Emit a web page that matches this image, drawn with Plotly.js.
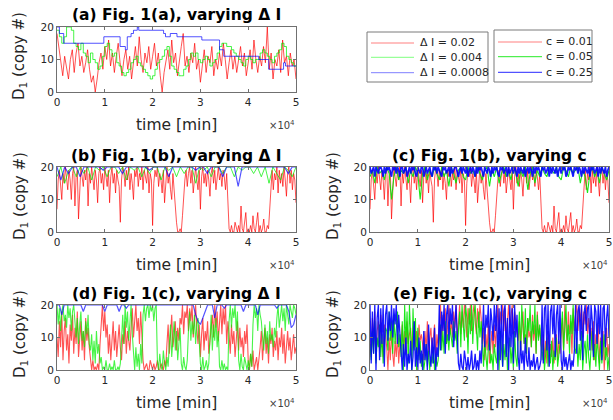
<!DOCTYPE html>
<html>
<head>
<meta charset="utf-8">
<script src="https://cdn.plot.ly/plotly-3.0.1.min.js"></script>
<style>html,body{margin:0;padding:0;background:#fff;}#chart{width:613px;height:420px;}</style>
</head>
<body>
<div id="chart"></div>
<script>
// ---------------- DATA ----------------
const xTickVals = [0, 10000, 20000, 30000, 40000, 50000];
const xTickText = ['0', '1', '2', '3', '4', '5'];
const yTickVals = [0, 10, 20];
const panelTitles = ['(a) Fig. 1(a), varying Δ I', '(b) Fig. 1(b), varying Δ I', '(c) Fig. 1(b), varying c',
                     '(d) Fig. 1(c), varying Δ I', '(e) Fig. 1(c), varying c'];
const namesDeltaI = ['Δ I = 0.02', 'Δ I = 0.004', 'Δ I = 0.0008'];
const namesC = ['c = 0.01', 'c = 0.05', 'c = 0.25'];

// (a) Fig 1(a), varying ΔI
const a_red = [18,14,9,5,11,7,4,10,13,6,12,15,8,11,6,9,13,7,3,5,0,4,9,12,7,14,10,16,8,12,6,11,15,9,5,10,13,7,11,4,
  9,14,8,17,10,6,12,9,14,7,11,15,8,12,5,0,6,10,13,7,16,9,12,5,10,14,18,8,11,6,12,9,15,7,10,3,8,13,6,11,
  9,14,5,10,7,12,8,15,10,4,9,13,7,11,6,10,14,8,12,5,9,13,7,16,10,6,11,8,14,9,20,7,12,4,10,8,13,6,16,9,
  11,5,12,8,10,4];
const a_green = [19,17,15,17,20,20,19,15,14,13,15,12,11,9,12,10,9,7,8,11,14,15,13,11,12,9,8,6,5,6,7,9,10,11,9,8,7,6,5,4,
  5,7,9,10,11,13,14,11,8,7,6,5,5,7,8,10,12,11,12,10,9,10,11,10,8,9,10,12,14,15,15,14,14,13,12,11,10,9,8,10,
  11,10,9,10,10,12,13,12,11,10,9,11,12,13,15,14,11,10,9,8,8];
const a_blue_t = [0,500,1400,9800,13200,14300,14700,15500,16000,16800,17100,22300,22700,23700,25100,26500,30300,34000,34900,38000,42200,42900,44300,47400,47800,49500,50000];
const a_blue   = [20,18,15,17,14,13,17,18,19,20,19,18,17,18,17,17,16,13,11,11,10,10,7,9,8,8,8];

// (b)/(c) Fig 1(b): lowest-parameter trace is the same run in both panels
const bc_red = [7,16,19,14,10,18,15,20,17,13,19,16,10,18,20,8,17,19,4,15,20,17,14,19,16,20,8,18,15,20,
  17,13,19,16,9,18,20,15,18,13,20,17,14,19,9,17,20,15,18,12,19,16,14,3,16,20,18,14,19,16,
  20,13,18,15,10,19,17,20,14,18,16,20,13,19,17,15,20,12,18,16,2,15,19,17,20,14,18,16,12,19,
  9,17,20,15,18,13,10,18,12,6,3,0,0,1,0,5,11,16,19,14,18,20,15,19,12,17,20,16,13,19,
  7,17,20,15,18,14,19,16,11,18,20,15,19,13,17,20,16,18,14,19,17,13,18,9,1,0,2,0,0,3,
  1,0,2,0,8,1,0,3,6,0,1,0,2,0,5,1,0,3,6,0,2,0,1,4,0,0,2,1,8,15,
  19,13,18,16,20,12,19,15,18,14,20,16,11,18,20,15,19,13,18,16,9];
const b_green = [17,20,15,19,20,17,20,18,20,16,20,19,20,17,20,20,18,20,16,20,19,20,17,20,18,20,20,16,20,19,20,17,20,18,20,20,15,20,19,20,
  17,20,20,18,20,20,17,20,19,20,20,18,20,17,20,15,20,18,16,20,19,17,20];
const b_blue = [20,16,20,18,20,20,17,20,20,20,20,20,19,20,20,20,20,18,20,20,20,20,20,20,19,20,20,20,20,17,20,20,20,20,20,20,19,20,20,18,
  20,20,20,17,20,20,20,14,20,20,20,20,20,20,20,20,20,20,20,20,18,20,20];
const c_green = [17,19,15,20,18,19,16,20,18,10,17,20,16,19,18,20,15,19,17,20,18,10,18,20,16,19,17,20,18,16,20,17,19,14,20,18,15,19,20,17,
  16,20,18,19,17,20,18,16,19,20,14,19,17,20,15,18,20,17,19,16,20,18,14,19,17,20,13,18,20,15,19,17,20,18,17,20,19,18,20,17,
  16,20,19,17,20,18,19,20,15,19,17,12,18,20,17,19,15,20,18,16,19];
const c_blue = [20,18,19,20,17,20,19,18,20,20,19,17,20,18,20,19,20,18,17,20,19,20,18,20,19,17,20,20,18,19,20,17,19,20,18,20,19,20,18,17,
  20,19,18,20,20,17,19,20,18,19,20,18,17,20,19,20,18,20,19,18,17,20,19,20,18,19,20,17,20,18,19,20,20,18,17,19,20,18,20,19,
  18,20,17,19,20,18,20,19,17,20,18,20,19,20,18,17,20,19,18,20,19,17,20,18,20,19,20,18,17,20,19,20,18,19,20,17,20,18,19,20,
  18,20,19,17,20,18,20,19,18,20,17,19,20,18,20,19,17,20,18,20,19,20,18,17,20,19,20,18,19,20,17,20,18,20,19,18,20,17,19,20,
  18,20,19,20,17,18,20,19,20,18,17,20,19,20,18,20,19,17,20,18,20,19,18,20,17,20,19,20,18,19,20,17,20,18,20,19,18,20,17,19,20];

// (d) Fig 1(c), varying ΔI
const d_red = [10,4,15,7,18,3,12,16,6,11,2,14,9,17,5,13,8,18,4,11,15,6,12,3,16,9,13,7,
  2,0,3,0,1,0,2,0,
  8,15,20,12,18,10,
  14,5,11,3,9,15,6,12,4,10,14,7,3,11,8,15,5,12,9,6,
  13,19,10,17,20,12,16,8,18,11,
  3,0,1,2,0,0,3,1,0,2,0,1,3,0,0,2,1,0,3,1,
  8,14,5,12,17,7,11,15,6,13,9,16,
  14,20,11,18,16,20,12,19,15,20,10,17,20,13,
  8,14,4,11,16,6,12,9,15,5,10,13,
  17,10,20,13,18,9,16,20,11,19,14,20,8,15,
  11,5,14,8,12,4,9,15,6,13,7,10,4,12,8,14,
  3,0,5,1,6,0,2,4,0,3,
  7,12,3,9,13,5,10,2,11,8,13,4,9,6,12,3,10,7,13,5,11,2,9,12,6,10,3,8,11,5,7];
const d_green = [20,14,19,12,18,20,15,17,13,20,16,19,12,18,20,14,
  10,16,8,14,18,9,12,7,15,11,17,8,
  6,11,3,9,2,12,5,8,2,4,
  0,1,0,3,0,0,2,0,1,0,3,0,0,1,0,2,
  10,17,8,20,13,18,9,15,20,11,
  4,0,7,1,5,0,8,2,
  17,20,15,19,20,16,20,18,20,15,19,20,
  3,0,5,1,0,6,2,0,4,1,
  8,14,4,11,15,6,12,3,9,13,
  2,0,4,1,0,3,
  12,18,9,15,11,17,8,14,16,10,
  2,0,4,0,1,3,0,2,
  11,17,6,14,9,16,7,12,
  1,0,3,0,2,0,1,0,
  15,20,13,19,16,20,12,18,
  3,0,5,1,0,4,2,0,3,0,5,1,
  14,20,16,19,12,20,17,15,
  10,6,14,8,12,5,15,9,11,7,13,10,
  16,20,13,18,20,15,19,12,20,17,14,20,18,16,20,19,17];
const d_blue = [20,20,17,20,20,20,20,20,20,20,20,18,20,20,20,20,20,20,20,20,18,20,20,20,20,20,18,20,20,19,20,20,20,20,20,20,20,20,20,20,
  20,20,20,20,20,20,20,20,20,20,20,20,20,20,20,20,20,20,17,15,14,16,18,20,20,20,16,20,20,20,19,20,20,20,20,20,20,20,18,20,
  20,20,20,20,17,20,20,20,20,20,20,20,19,20,20,20,20,18,13,14,17];

// (e) Fig 1(c), varying c
const e_red = [10,4,16,8,18,3,12,15,6,17,9,4,14,11,
  7,0,10,3,12,5,1,9,4,11,2,8,
  9,14,6,12,5,15,8,11,13,6,10,15,7,12,5,14,9,11,
  8,3,12,6,15,4,10,13,5,9,14,3,11,7,
  14,20,9,17,12,19,8,16,20,11,15,10,18,13,20,9,
  15,20,11,18,13,20,16,10,19,14,20,12,17,20,15,11,19,13,20,16,
  8,13,3,11,6,15,2,9,12,5,14,7,
  16,20,11,18,14,20,12,19,10,17,20,13,16,20,11,18,15,12,
  9,15,6,13,18,8,11,5,16,10,
  12,7,17,9,14,5,18,10,13,8,
  6,11,3,9,2,12,5,8,4,10,2,7,11,3,9,5,
  10,16,6,20,13,8,18,11,15,5,19,12,
  17,20,12,19,15,20,10,18,14,20,11,16,9,13,6,15,3,11,8,14,2,10,5,12,0,9,13,4,8];
const e_green = [8,3,12,5,15,2,10,7,14,4,11,2,9,13,
  12,6,18,9,15,5,17,8,13,18,7,11,
  4,15,0,20,8,18,2,20,11,0,19,6,16,0,13,3,9,1,
  5,0,3,8,1,6,0,4,2,7,0,5,1,3,
  9,14,6,12,5,15,8,11,6,13,10,7,15,9,12,5,
  12,18,7,20,14,9,20,16,5,19,11,20,8,17,20,13,6,18,10,15,
  6,1,9,3,0,7,10,2,5,0,8,4,
  2,9,0,12,5,1,8,3,11,0,6,10,2,7,0,12,4,1,
  10,18,6,20,13,8,19,5,16,12,
  20,7,15,11,20,5,17,9,14,6,
  3,8,0,5,10,1,7,2,9,0,6,3,10,1,4,8,
  12,18,6,15,20,9,14,5,17,11,20,7,
  5,10,1,8,3,12,0,6,9,2,11,4,0,7,12,3,8,1,10,5,0,9,2,6,11,3,7,0,4];
const e_blue = [20,2,18,5,20,0,16,20,3,19,8,20,1,17,
  20,9,18,12,20,10,19,14,20,8,17,11,
  3,0,8,1,10,0,5,2,9,0,4,15,1,7,0,10,2,6,
  0,12,3,8,0,14,5,1,10,2,13,0,7,4,
  20,6,18,12,20,5,17,20,9,19,14,20,7,16,20,11,
  2,0,5,1,0,6,3,0,4,0,2,6,0,1,5,0,3,0,6,2,
  10,20,7,17,13,20,6,19,15,9,20,12,
  20,0,19,3,20,1,18,20,4,16,0,20,7,19,2,20,10,17,
  4,0,9,2,6,0,10,3,1,7,
  0,3,1,5,0,2,4,0,1,3,
  20,2,19,20,6,20,1,18,20,11,20,4,17,20,8,20,
  3,0,6,1,4,0,2,5,0,3,1,6,
  20,5,18,20,9,20,3,17,20,12,19,20,6,20,15,4,20,18,8,20,11,20,3,19,20,7,16,20,10];

// ---------------- STYLE / LAYOUT ----------------
const FONT = 'DejaVu Sans, Liberation Sans, sans-serif';
const W = 613, H = 420;
const px = p => p / W;
const py = p => 1 - p / H;
const cols = [[57, 296], [370, 609]];
const rows = [[27, 92], [167, 232], [305, 370]];
const place = [[0, 0], [0, 1], [1, 1], [0, 2], [1, 2]];

// plot colours (denser overlap in the reference => a bit more opaque), legend colours lighter
const colDI = ['rgba(255,0,0,0.68)', 'rgba(0,240,0,0.72)', 'rgba(0,0,255,0.68)'];
const colC  = ['rgba(255,0,0,0.68)', 'rgba(0,230,0,0.9)', 'rgba(0,0,255,0.9)'];
const legColDI = ['rgba(255,0,0,0.5)', 'rgba(0,255,0,0.5)', 'rgba(0,0,255,0.5)'];
const legColC  = ['rgba(255,0,0,0.5)', 'rgba(0,230,0,0.85)', 'rgba(0,0,255,0.85)'];

function tgrid(n) { const a = []; for (let i = 0; i < n; i++) a.push(i * 50000 / (n - 1)); return a; }

const series = [
  [[tgrid(a_red.length), a_red, 'linear'], [tgrid(a_green.length), a_green, 'hv'], [a_blue_t, a_blue, 'hv']],
  [[tgrid(bc_red.length), bc_red, 'linear'], [tgrid(b_green.length), b_green, 'linear'], [tgrid(b_blue.length), b_blue, 'linear']],
  [[tgrid(bc_red.length), bc_red, 'linear'], [tgrid(c_green.length), c_green, 'linear'], [tgrid(c_blue.length), c_blue, 'linear']],
  [[tgrid(d_red.length), d_red, 'linear'], [tgrid(d_green.length), d_green, 'linear'], [tgrid(d_blue.length), d_blue, 'linear']],
  [[tgrid(e_red.length), e_red, 'linear'], [tgrid(e_green.length), e_green, 'linear'], [tgrid(e_blue.length), e_blue, 'linear']]
];
const isC = [false, false, true, false, true];
const widths = [[1, 1, 1], [1, 1, 1.2], [1, 1.1, 1.7], [1.1, 1.1, 1.2], [1.1, 1.1, 1.3]];

const traces = [];
const layout = {
  width: W, height: H, margin: {l: 0, r: 0, t: 0, b: 0},
  paper_bgcolor: '#fff', plot_bgcolor: '#fff', showlegend: false,
  font: {family: FONT, color: '#262626'},
  annotations: [], shapes: []
};

for (let p = 0; p < 5; p++) {
  const [ci, ri] = place[p];
  const [l, r] = cols[ci], [t, b] = rows[ri];
  const sfx = p === 0 ? '' : String(p + 1);
  const axCommon = {showline: true, mirror: 'ticks', linecolor: '#707070', linewidth: 1, ticks: 'inside', ticklen: 3,
    tickcolor: '#707070', showgrid: false, zeroline: false, tickfont: {family: FONT, size: 10.5, color: '#262626'}, fixedrange: true};
  layout['xaxis' + sfx] = Object.assign({}, axCommon, {domain: [px(l), px(r)], anchor: 'y' + sfx, range: [0, 50000],
    tickmode: 'array', tickvals: xTickVals, ticktext: xTickText});
  layout['yaxis' + sfx] = Object.assign({}, axCommon, {domain: [py(b), py(t)], anchor: 'x' + sfx, range: [0, 20],
    tickmode: 'array', tickvals: yTickVals});
  const cols3 = isC[p] ? colC : colDI;
  const names = isC[p] ? namesC : namesDeltaI;
  series[p].forEach((s, k) => {
    traces.push({x: s[0], y: s[1], xaxis: 'x' + sfx, yaxis: 'y' + sfx, type: 'scatter', mode: 'lines',
      line: {color: cols3[k], width: widths[p][k], shape: s[2]}, name: names[k], hoverinfo: 'skip'});
  });
  const cx = (l + r) / 2;
  layout.annotations.push({text: '<b>' + panelTitles[p] + '</b>', x: px(cx), y: py(t - 11.5), xref: 'paper', yref: 'paper',
    xanchor: 'center', yanchor: 'middle', showarrow: false, font: {family: FONT, size: 15.5, color: '#000'}});
  layout.annotations.push({text: 'time [min]', x: px(cx), y: py(b + 33), xref: 'paper', yref: 'paper',
    xanchor: 'center', yanchor: 'middle', showarrow: false, font: {family: FONT, size: 15.5, color: '#262626'}});
  layout.annotations.push({text: '×10<sup>4</sup>', x: px(r + 1), y: py(b + 33), xref: 'paper', yref: 'paper',
    xanchor: 'right', yanchor: 'middle', showarrow: false, font: {family: FONT, size: 10, color: '#404040'}});
  layout.annotations.push({text: 'D<sub>1</sub> (copy #)', x: px(l - 37), y: py((t + b) / 2 - 3.5), xref: 'paper', yref: 'paper',
    xanchor: 'center', yanchor: 'middle', textangle: -90, showarrow: false, font: {family: FONT, size: 15, color: '#262626'}});
}

// ---------------- LEGENDS (two boxes, as in the reference) ----------------
const legends = [
  {box: [367, 488, 32, 82], line: [371, 414], textX: 418, rowsY: [43, 57.3, 72.7], names: namesDeltaI, colors: legColDI},
  {box: [494, 592, 30, 82], line: [498, 542], textX: 544, rowsY: [42, 56.7, 72.3], names: namesC, colors: legColC}
];
legends.forEach(lg => {
  layout.shapes.push({type: 'rect', xref: 'paper', yref: 'paper', x0: px(lg.box[0]), x1: px(lg.box[1]), y0: py(lg.box[3]), y1: py(lg.box[2]),
    line: {color: '#7a7a7a', width: 1}, fillcolor: '#fff', layer: 'above'});
  lg.names.forEach((nm, k) => {
    layout.shapes.push({type: 'line', xref: 'paper', yref: 'paper', x0: px(lg.line[0]), x1: px(lg.line[1]),
      y0: py(lg.rowsY[k]), y1: py(lg.rowsY[k]), line: {color: lg.colors[k], width: 1}, layer: 'above'});
    layout.annotations.push({text: nm, x: px(lg.textX), y: py(lg.rowsY[k]), xref: 'paper', yref: 'paper',
      xanchor: 'left', yanchor: 'middle', showarrow: false, font: {family: FONT, size: 11, color: '#262626'}});
  });
});

Plotly.newPlot('chart', traces, layout, {staticPlot: true, displayModeBar: false});
</script>
</body>
</html>
